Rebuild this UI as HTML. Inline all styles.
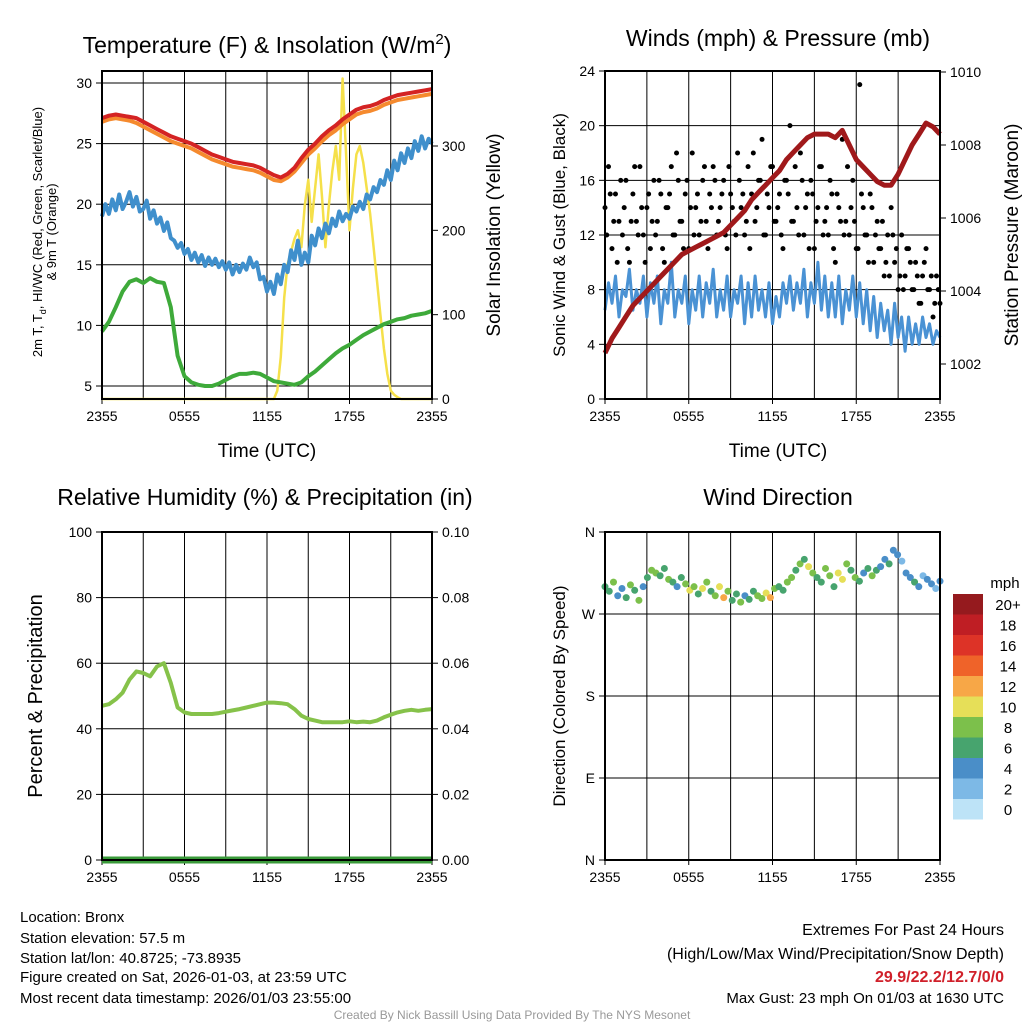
<!DOCTYPE html>
<html><head><meta charset="utf-8"><style>
body{margin:0;background:#fff}
svg text{font-family:"Liberation Sans",Arial,sans-serif;fill:#000}
</style></head><body>
<svg id="s" width="1024" height="1024" xmlns="http://www.w3.org/2000/svg"></svg>
<script>
// ---------- DATA ----------
const timeTicks = ["2355","0555","1155","1755","2355"];
const tempRed = [27.1,27.3,27.4,27.3,27.2,27.1,26.8,26.5,26.2,25.9,25.6,25.4,25.2,25.0,24.7,24.4,24.1,23.9,23.7,23.5,23.4,23.3,23.2,23.0,22.7,22.4,22.2,22.5,23.0,23.8,24.5,25.0,25.6,26.1,26.5,27.0,27.4,27.8,28.0,28.1,28.3,28.6,28.8,29.0,29.1,29.2,29.3,29.4,29.5];
const tempOrange = [26.8,27.0,27.1,27.0,26.9,26.7,26.4,26.1,25.8,25.5,25.2,25.0,24.8,24.6,24.3,24.0,23.7,23.5,23.3,23.1,23.0,22.9,22.8,22.6,22.3,22.0,21.9,22.2,22.7,23.4,24.1,24.6,25.2,25.7,26.1,26.6,27.0,27.4,27.6,27.7,27.9,28.2,28.4,28.6,28.7,28.8,28.9,29.0,29.1];
const dewGreen = [9.5,10.3,11.5,12.8,13.6,13.8,13.5,13.9,13.6,13.5,11.5,7.5,5.8,5.3,5.1,5.0,5.0,5.2,5.5,5.8,6.0,6.0,6.1,6.0,5.7,5.4,5.3,5.2,5.1,5.3,5.8,6.2,6.7,7.2,7.7,8.1,8.4,8.8,9.2,9.5,9.8,10.1,10.3,10.5,10.6,10.8,10.9,11.0,11.2];
const wcBlue = [19.0,20.0,19.2,20.4,19.5,20.8,19.6,20.2,21.0,19.8,20.6,19.4,19.6,20.3,18.8,19.5,18.4,18.9,17.8,18.5,17.2,17.0,16.4,16.8,15.9,16.3,15.4,16.0,15.2,15.8,14.9,15.6,15.0,15.5,14.8,15.3,14.6,15.2,14.2,15.0,14.4,15.1,14.6,15.6,14.8,15.2,13.8,14.0,12.8,13.6,12.6,14.2,13.4,15.0,14.4,16.2,15.4,17.0,15.0,16.0,15.2,17.4,16.6,18.0,17.2,18.4,17.6,18.8,18.2,19.4,18.6,19.2,18.8,19.8,19.4,20.2,19.6,20.8,20.4,21.4,21.0,22.0,21.6,22.8,22.0,23.6,22.8,24.2,23.4,24.6,23.8,25.2,24.4,25.6,24.6,25.4,25.0];
const solar = [0,0,0,0,0,0,0,0,0,0,0,0,0,0,0,0,0,0,0,0,0,0,0,0,0,0,0,0,0,0,0,0,0,0,0,0,0,0,0,0,0,0,0,0,0,0,0,0,0,0,0,10,50,120,160,175,190,200,180,230,260,210,250,290,240,180,230,270,300,260,380,290,200,250,290,300,280,250,220,180,140,100,60,30,10,5,2,0,0,0,0,0,0,0,0,0,0];
const windSonic = [6.5,8.5,7,9,6,8,7.5,9.5,6.5,8,7,9,6,8.5,7,9,5.5,8,7,10,6,8,7,9,5.5,8,6.5,9,6,8.5,7,9.5,6,8,6.5,9,6,8,7,9,5.5,8.5,6,9,6.5,8,6,8.5,5.5,7.5,6,8.5,7,9,6.5,8.5,7,9.5,6,8.5,7,10,6.5,9,6,8.5,6,9,5.5,8,6.5,9,6,8.5,5.5,8,5,7.5,4.5,7,5,6.5,4,7,4.5,6,3.5,6,4,5.5,4,6,4.5,5.5,4,5,4.5];
const windGust = [14,17,11,15,13,12,16,10,15,13,17,12,14,11,16,13,15,10,14,17,12,16,13,15,11,18,14,12,16,13,15,17,12,14,16,11,15,13,18,14,12,17,15,13,16,19,12,14,17,13,15,11,16,20,13,14,18,12,15,16,11,14,17,13,12,15,10,14,19,13,12,16,11,23,14,12,15,10,13,11,9,12,14,10,8,12,9,11,8,10,7,9,11,8,6,9,7];
const windGust2 = [12,15,13,10,16,14,11,13,17,12,14,10,15,13,12,16,11,14,15,12,18,13,11,16,14,12,15,13,17,11,14,16,13,15,12,17,14,12,16,15,13,11,18,14,16,12,15,17,13,14,12,16,15,13,17,12,16,14,11,15,13,17,12,14,16,11,15,13,12,17,14,13,11,15,12,10,14,12,11,13,10,9,12,11,9,8,11,10,8,9,7,10,8,9,7,8,6];
const pressure = [1002.3,1002.7,1003.0,1003.3,1003.6,1003.8,1004.0,1004.2,1004.4,1004.6,1004.8,1005.0,1005.1,1005.2,1005.3,1005.4,1005.5,1005.6,1005.8,1006.0,1006.2,1006.5,1006.7,1006.9,1007.1,1007.3,1007.6,1007.8,1008.0,1008.2,1008.3,1008.3,1008.3,1008.2,1008.4,1008.0,1007.6,1007.4,1007.2,1007.0,1006.9,1006.9,1007.2,1007.6,1008.0,1008.3,1008.6,1008.5,1008.3];
const rh = [47,47.5,49,51,55,57.5,57,56,59,60,54,46.5,45,44.5,44.5,44.5,44.5,44.8,45.2,45.6,46,46.5,47,47.5,48,48,47.8,47.5,46,44,43,42.5,42,42,42,42,42.3,42,42.2,42,42.5,43.5,44.3,45,45.5,45.8,45.5,45.8,46];
const precip = [0,0,0,0,0,0,0,0,0,0,0,0,0,0,0,0,0,0,0,0,0,0,0,0,0];
const windDir = [300,295,305,290,298,288,302,296,285,300,310,318,315,312,320,308,305,300,310,303,296,300,292,298,305,295,290,300,288,295,285,292,283,290,286,295,290,287,293,288,298,300,296,305,310,318,325,330,322,315,310,305,320,312,300,315,308,325,318,310,306,315,320,312,318,322,330,325,340,335,328,315,310,305,300,312,308,303,298,306];
const dirSpeed = [6,7,8,5,4,6,9,7,8,5,6,8,9,7,6,8,7,5,6,9,10,8,7,11,9,6,8,10,12,9,7,6,8,5,6,7,8,9,11,12,8,7,6,9,8,7,9,6,10,8,7,6,9,8,7,10,11,9,7,8,6,5,7,8,6,4,5,7,4,5,3,4,5,6,4,3,5,4,3,4];
const cbLabels = ["20+","18","16","14","12","10","8","6","4","2","0"];
const cbColors = ["#951a1e","#bf1e24","#dd3327","#ef6329","#f7a747","#e6df58","#7cc04b","#47a46e","#4a8ec8","#7db9e6","#bde3f7"];

// ---------- HELPERS ----------
const S=document.getElementById('s'), NS='http://www.w3.org/2000/svg';
function el(t,a,txt,p){const e=document.createElementNS(NS,t);for(const k in a)e.setAttribute(k,a[k]);if(txt!=null)e.textContent=txt;(p||S).appendChild(e);return e;}
function txt(x,y,s,size,anchor,extra){const e=el('text',Object.assign({x:x,y:y,'font-size':size,'text-anchor':anchor||'middle'},extra||{}),s);return e;}
function lin(d0,d1,r0,r1){return v=>r0+(v-d0)/(d1-d0)*(r1-r0);}
function xIdx(x0,w,n){return i=>x0+i/(n-1)*w;}
function line(arr,fx,fy,col,wd,name){let d='';arr.forEach((v,i)=>{d+=(i?'L':'M')+fx(i,arr.length).toFixed(1)+','+fy(v).toFixed(1);});
 const p=el('path',{d:d,fill:'none',stroke:col,'stroke-width':wd,'stroke-linejoin':'round'});
 
 
 return p;}
function panel(x0,y0,w,h,name){const g=el('g',{});
 
 
 for(let k=1;k<8;k++){el('line',{x1:x0+k*w/8,x2:x0+k*w/8,y1:y0,y2:y0+h,stroke:'#000','stroke-width':1},null,g);}
 timeTicks.forEach((t,k)=>{const x=x0+k*w/4;el('line',{x1:x,x2:x,y1:y0+h,y2:y0+h+5,stroke:'#000'},null,g);
   const tl=txt(x,y0+h+22,t,14);});
 return g;}
function frame(x0,y0,w,h){el('rect',{x:x0,y:y0,width:w,height:h,fill:'none',stroke:'#000','stroke-width':2});}
function hgrid(g,x0,w,y){el('line',{x1:x0,x2:x0+w,y1:y,y2:y,stroke:'#000','stroke-width':1},null,g);}
function ylab(x,y,s,anchor){const t=txt(x,y+5,s,14,anchor);
 el('line',{x1:anchor==='end'?x+4:x-4,x2:anchor==='end'?x+9:x-9,y1:y,y2:y,stroke:'#000'});}
function vtitle(x,y,s,size,name){const t=txt(x,y,s,size,'middle',{transform:`rotate(-90 ${x} ${y})`});return t;}

// ---------- PANEL 1: Temperature ----------
(function(){const x0=102,y0=71,w=330,h=328;const g=panel(x0,y0,w,h,'temperature-panel');
 const fy=lin(5,30,386,83), fs=lin(0,300,399,146), fx=(i,n)=>xIdx(x0,w,n)(i);
 [5,10,15,20,25,30].forEach(v=>{hgrid(g,x0,w,fy(v));ylab(x0-10,fy(v),String(v),'end');});
 [0,100,200,300].forEach(v=>{ylab(x0+w+10,fs(v),String(v),'start');});
 line(solar,fx,fs,'#f5e04a',2.5,'solar-insolation-line');
 line(dewGreen,fx,fy,'#3eaa3a',4,'dewpoint-line');
 line(wcBlue,fx,fy,'#3f8fcc',4,'windchill-line');
 line(tempOrange,fx,fy,'#f58a2e',4,'temp-9m-line');
 line(tempRed,fx,fy,'#d42323',4,'temp-2m-line');
 frame(x0,y0,w,h);
 const t=txt(267,53,'',23);
 t.innerHTML='Temperature (F) &amp; Insolation (W/m<tspan dy="-9" font-size="15">2</tspan><tspan dy="9">)</tspan>';
 const xl=txt(267,457,'Time (UTC)',19);
 const l1=vtitle(42,232,'',13,'temperature-y-axis-title');l1.innerHTML='2m T, T<tspan dy="4" font-size="9">d</tspan><tspan dy="-4">, HI/WC (Red, Green, Scarlet/Blue)</tspan>';
 vtitle(56,232,'& 9m T (Orange)',13,'temperature-y-axis-title-2');
 vtitle(500,235,'Solar Insolation (Yellow)',19,'solar-y-axis-title');
})();

// ---------- PANEL 2: Winds ----------
(function(){const x0=605,y0=71,w=335,h=328;const g=panel(x0,y0,w,h,'winds-panel');
 const fy=lin(0,24,399,71), fp=lin(1002,1010,364,72), fx=(i,n)=>xIdx(x0,w,n)(i);
 const fx2=(i,n)=>xIdx(x0,w,n)(i)+w/(2*(n-1));
 [4,8,12,16,20].forEach(v=>hgrid(g,x0,w,fy(v)));
 [0,4,8,12,16,20,24].forEach(v=>ylab(x0-10,fy(v),String(v),'end'));
 [1002,1004,1006,1008,1010].forEach(v=>ylab(x0+w+10,fp(v),String(v),'start'));
 line(windSonic,fx,fy,'#4a92d4',3,'sonic-wind-line');
 windGust.forEach((v,i)=>{const c=el('circle',{cx:fx(i,windGust.length),cy:fy(v),r:2.5,fill:'#000'});
   });
 windGust2.forEach((v,i)=>{if(i>=windGust2.length-1)return;const c=el('circle',{cx:fx2(i,windGust2.length),cy:fy(v),r:2.5,fill:'#000'});
   });
 line(pressure,fx,fp,'#a0191b',5,'pressure-line');
 frame(x0,y0,w,h);
 const t=txt(778,46,'Winds (mph) & Pressure (mb)',23);
 const xl=txt(778,457,'Time (UTC)',19);
 vtitle(565,235,'Sonic Wind & Gust (Blue, Black)',17,'wind-y-axis-title');
 vtitle(1018,235,'Station Pressure (Maroon)',19,'pressure-y-axis-title');
})();

// ---------- PANEL 3: RH ----------
(function(){const x0=102,y0=532,w=330,h=328;const g=panel(x0,y0,w,h,'humidity-panel');
 const fy=lin(0,100,860,532), fr=lin(0,0.1,860,532), fx=(i,n)=>xIdx(x0,w,n)(i);
 [20,40,60,80].forEach(v=>hgrid(g,x0,w,fy(v)));
 [0,20,40,60,80,100].forEach(v=>ylab(x0-10,fy(v),String(v),'end'));
 [0,0.02,0.04,0.06,0.08,0.10].forEach(v=>ylab(x0+w+10,fr(v),v.toFixed(2),'start'));
 line(rh,fx,fy,'#86c24a',4,'humidity-line');
 line(precip,fx,fr,'#3a9a3a',7,'precipitation-line');
 frame(x0,y0,w,h);
 const t=txt(265,505,'Relative Humidity (%) & Precipitation (in)',23);
 vtitle(42,696,'Percent & Precipitation',20,'humidity-y-axis-title');
})();

// ---------- PANEL 4: Wind direction ----------
(function(){const x0=605,y0=532,w=335,h=328;const g=panel(x0,y0,w,h,'wind-direction-panel');
 const fy=lin(0,360,860,532), fx=(i,n)=>xIdx(x0,w,n)(i);
 [90,180,270].forEach(v=>hgrid(g,x0,w,fy(v)));
 [[0,'N'],[90,'E'],[180,'S'],[270,'W'],[360,'N']].forEach(a=>ylab(x0-10,fy(a[0]),a[1],'end'));
 function col(s){const k=Math.min(10,Math.floor(s/2));return cbColors[10-k];}
 windDir.forEach((v,i)=>{const c=el('circle',{cx:fx(i,windDir.length),cy:fy(v),r:3.5,fill:col(dirSpeed[i])});
   });
 frame(x0,y0,w,h);
 const t=txt(778,505,'Wind Direction',23);
 vtitle(565,696,'Direction (Colored By Speed)',17,'direction-y-axis-title');
 const lg=el('g',{});
 txt(1005,588,'mph',15,'middle');
 cbColors.forEach((c,k)=>{el('rect',{x:953,y:594+k*20.5,width:30,height:20.5,fill:c},null,lg);
   const l=txt(1008,610+k*20.5,cbLabels[k],15,'middle');});
})();

// ---------- FOOTER TEXT ----------
[["Location: Bronx",922],["Station elevation: 57.5 m",943],["Station lat/lon: 40.8725; -73.8935",963],["Figure created on Sat, 2026-01-03, at 23:59 UTC",982],["Most recent data timestamp: 2026/01/03 23:55:00",1003]].forEach(a=>{
 const t=txt(20,a[1],a[0],15,'start');});
let e;
e=txt(1004,935,'Extremes For Past 24 Hours',16,'end');
e=txt(1004,959,'(High/Low/Max Wind/Precipitation/Snow Depth)',16,'end');
e=txt(1004,982,'29.9/22.2/12.7/0/0',16,'end',{'font-weight':'bold',style:'fill:#d0202a'});
e=txt(1004,1003,'Max Gust: 23 mph On 01/03 at 1630 UTC',15,'end');
e=txt(512,1019,'Created By Nick Bassill Using Data Provided By The NYS Mesonet',12,'middle',{style:'fill:#999'});
</script>
</body></html>
